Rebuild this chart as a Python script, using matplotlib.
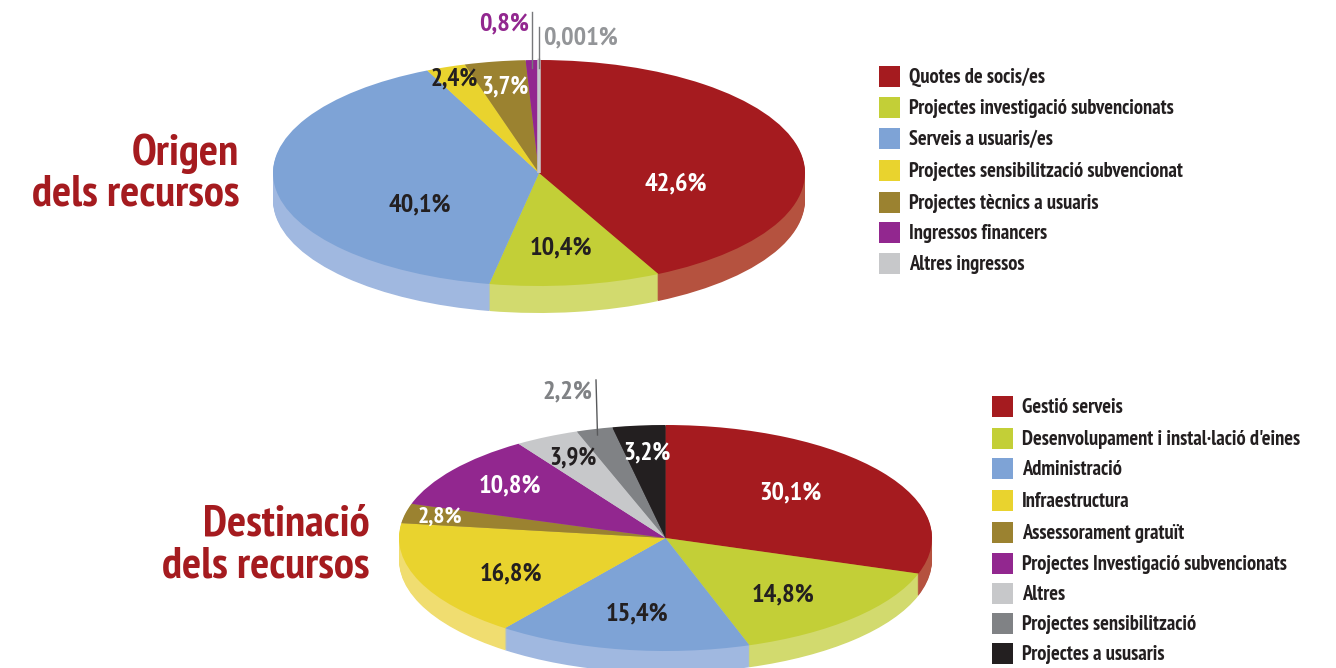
import matplotlib
matplotlib.use('Agg')
import matplotlib.pyplot as plt
import numpy as np

W, H = 1336, 668
FONT = ['PT Sans Narrow', 'Roboto Condensed', 'Liberation Sans', 'DejaVu Sans']

RED = '#A51B1F'
LIME = '#C3CF37'
BLUE = '#7EA3D6'
YELLOW = '#E9D32E'
BROWN = '#9B8230'
PURPLE = '#92278F'
LGRAY = '#C7C8CA'
GRAY = '#808285'
BLACK = '#231F20'

origen_cats = ['Quotes de socis/es', 'Projectes investigació subvencionats', 'Serveis a usuaris/es',
               'Projectes sensibilització subvencionat', 'Projectes tècnics a usuaris',
               'Ingressos financers', 'Altres ingressos']
origen_vals = [42.6, 10.4, 40.1, 2.4, 3.7, 0.8, 0.001]
origen_labels = ['42,6%', '10,4%', '40,1%', '2,4%', '3,7%', '0,8%', '0,001%']
origen_cols = [RED, LIME, BLUE, YELLOW, BROWN, PURPLE, LGRAY]
origen_side = ['#B5523F', '#D2DA6E', '#A0B8E0', '#F0DD70', '#B5A35F', '#A95CA6', '#D8D8DA']

dest_cats = ['Gestió serveis', "Desenvolupament i instal·lació d'eines", 'Administració', 'Infraestructura',
             'Assessorament gratuït', 'Projectes Investigació subvencionats', 'Altres',
             'Projectes sensibilització', 'Projectes a ususaris']
dest_vals = [30.1, 14.8, 15.4, 16.8, 2.8, 10.8, 3.9, 2.2, 3.2]
dest_labels = ['30,1%', '14,8%', '15,4%', '16,8%', '2,8%', '10,8%', '3,9%', '2,2%', '3,2%']
dest_cols = [RED, LIME, BLUE, YELLOW, BROWN, PURPLE, LGRAY, GRAY, BLACK]
dest_side = ['#B5523F', '#D2DA6E', '#A0B8E0', '#F0DD70', '#B5A35F', '#A95CA6', '#D8D8DA', '#9A9B9E', '#4A4748']

# label placement in pixels
origen_pos = [(676, 184), (561, 248), (420, 205), (454, 79), (505, 87), (504, 24), (581, 38)]
origen_txt = ['white', BLACK, BLACK, BLACK, 'white', PURPLE, '#939598']
origen_size = [19, 19, 19, 18, 18, 19, 19]
dest_pos = [(790, 493), (783, 595), (637, 614), (511, 574), (440, 517), (510, 486), (573, 458), (567, 392), (647, 453)]
dest_txt = ['white', BLACK, BLACK, BLACK, 'white', 'white', BLACK, GRAY, 'white']
dest_size = [19, 19, 19, 19, 17, 19, 18, 19, 18]


def pie3d(fig, vals, cols, side, cx, cy, rx, ry, depth):
    # axes sized so the unit circle lands on the wanted ellipse
    ymin = -1.1 - depth / ry - 0.1
    ax = fig.add_axes([(cx - 1.1 * rx) / W, 1 - (cy - ymin * ry) / H,
                       2.2 * rx / W, (1.1 - ymin) * ry / H])
    for d in np.arange(depth, 0, -1.0):
        ax.pie(vals, colors=side, startangle=90, counterclock=False, center=(0, -d / ry),
               normalize=True, wedgeprops={'linewidth': 0})
    wedges, _ = ax.pie(vals, colors=cols, startangle=90, counterclock=False,
                       normalize=True, wedgeprops={'linewidth': 0})
    ax.set_aspect('auto')
    ax.set_xlim(-1.1, 1.1)
    ax.set_ylim(ymin, 1.1)
    ax.patch.set_alpha(0)
    return wedges


fig = plt.figure(figsize=(W / 100, H / 100), dpi=100)
w1 = pie3d(fig, origen_vals, origen_cols, origen_side, 539, 173, 266, 113, 27)
w1[-1].set_edgecolor(LGRAY)
w1[-1].set_linewidth(2)
pie3d(fig, dest_vals, dest_cols, dest_side, 665.5, 538, 266.5, 113, 22)

# overlay in pixel coordinates for text, legends and leader lines
ov = fig.add_axes([0, 0, 1, 1])
ov.set_xlim(0, W)
ov.set_ylim(H, 0)
ov.axis('off')
ov.patch.set_alpha(0)

for lab, p, c, s in zip(origen_labels, origen_pos, origen_txt, origen_size):
    ov.text(p[0], p[1], lab, color=c, family=FONT, weight='bold', fontsize=s, ha='center', va='center')
for lab, p, c, s in zip(dest_labels, dest_pos, dest_txt, dest_size):
    ov.text(p[0], p[1], lab, color=c, family=FONT, weight='bold', fontsize=s, ha='center', va='center')

ov.plot([531.5, 531.5], [12, 68], color='#77787B', lw=1)
ov.plot([539, 539], [27, 68], color='#77787B', lw=1)
ov.plot([596, 597.5], [380, 435], color='#58595B', lw=1)


def legend(cats, cols, x, ys):
    for name, c, y in zip(cats, cols, ys):
        ov.add_patch(plt.Rectangle((x, y - 10.5), 21, 21, color=c, lw=0))
        ov.text(x + 30, y + 1.5, name, color=BLACK, family=FONT, weight='bold', fontsize=14.8, va='center')


legend(origen_cats, origen_cols, 879, [76, 107, 138, 170, 202, 232, 263])
legend(dest_cats, dest_cols, 992, [406, 438, 468, 500, 532, 563, 593, 623, 653])

for s, y in [('Origen', 154), ('dels recursos', 195)]:
    ov.text(239, y, s, color=RED, family=FONT, weight='bold', fontsize=32.3, ha='right', va='center')
for s, y in [('Destinació', 525), ('dels recursos', 566)]:
    ov.text(370, y, s, color=RED, family=FONT, weight='bold', fontsize=32.3, ha='right', va='center')

fig.savefig('out.png', dpi=100)
